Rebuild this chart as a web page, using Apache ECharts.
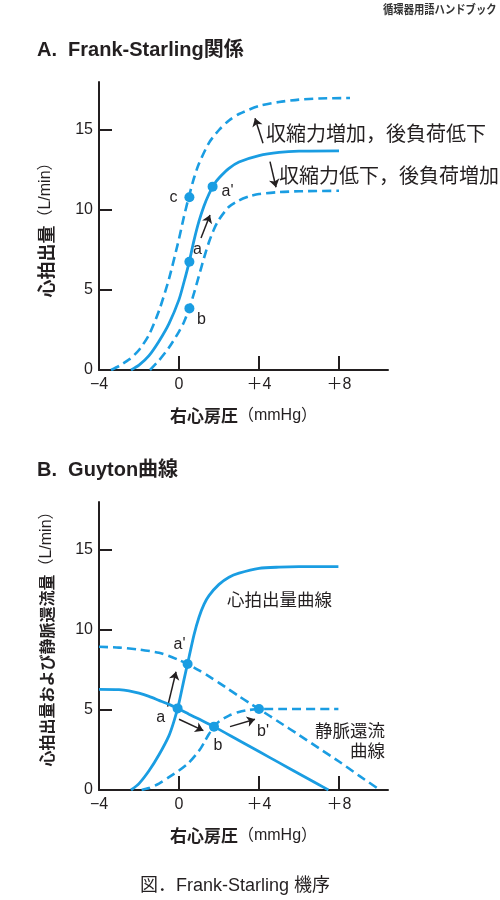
<!DOCTYPE html>
<html>
<head>
<meta charset="utf-8">
<script src="https://cdn.jsdelivr.net/npm/echarts@6/dist/echarts.min.js"></script>
<style>
  html, body { margin: 0; padding: 0; background: #fff; }
  #chart { width: 500px; height: 900px; }
</style>
</head>
<body>
<div id="chart"></div>
<script>
// ---- data ----
const xTicks = [-4, 0, 4, 8];
const xTickLabels = ['−4', '0', '＋4', '＋8'];
const yTicks = [0, 5, 10, 15];
const yTickLabels = ['0', '5', '10', '15'];

// A. Frank-Starling
const aUpper = [[-3.4, 0], [-3.0, 0.25], [-2.5, 0.65], [-2.0, 1.25], [-1.5, 2.2], [-1.0, 3.7], [-0.5, 5.7], [0, 8.2], [0.25, 9.6], [0.5, 10.85], [0.75, 12.0], [1.0, 12.9], [1.5, 14.2], [2.0, 15.0], [2.5, 15.6], [3.0, 16.0], [4.0, 16.5], [5.0, 16.75], [6.0, 16.9], [7.0, 16.97], [8.55, 17.0]];
const aNormal = [[-2.4, 0], [-2.0, 0.3], [-1.5, 0.9], [-1.0, 1.8], [-0.5, 2.9], [0, 4.4], [0.25, 5.5], [0.5, 6.7], [0.75, 8.1], [1.0, 9.3], [1.25, 10.25], [1.5, 11.0], [1.75, 11.6], [2.0, 12.0], [2.5, 12.6], [3.0, 13.0], [4.0, 13.4], [5.0, 13.6], [6.0, 13.68], [8.0, 13.7]];
const aLower = [[-1.45, 0], [-1.0, 0.6], [-0.5, 1.4], [0, 2.4], [0.25, 3.0], [0.5, 3.8], [0.75, 4.8], [1.0, 5.9], [1.25, 7.0], [1.5, 8.0], [1.75, 8.8], [2.0, 9.4], [2.5, 10.2], [3.0, 10.6], [3.5, 10.85], [4.0, 11.0], [5.0, 11.12], [6.0, 11.17], [8.0, 11.2]];
const aPoints = [['c', 0.52, 10.8], ["a'", 1.68, 11.46], ['a', 0.52, 6.77], ['b', 0.52, 3.85]];
const aArrows = [[[1.1, 8.25], [1.55, 9.69]], [[4.2, 14.17], [3.8, 15.73]], [[4.55, 13.02], [4.85, 11.42]]];

// B. Guyton
const bCO = [[-2.4, 0], [-2.0, 0.4], [-1.5, 1.2], [-1.0, 2.2], [-0.5, 3.4], [-0.25, 4.3], [0, 5.45], [0.25, 6.9], [0.5, 8.3], [0.75, 9.7], [1.0, 10.8], [1.25, 11.6], [1.5, 12.15], [2.0, 12.85], [2.5, 13.3], [3.0, 13.55], [4.0, 13.85], [5.0, 13.93], [6.0, 13.96], [7.97, 13.96]];
const bCODown = [[-1.87, 0], [-1.5, 0.12], [-1.0, 0.4], [-0.5, 0.8], [0, 1.22], [0.5, 1.72], [1.0, 2.45], [1.25, 2.95], [1.5, 3.5], [1.75, 3.96], [2.0, 4.28], [2.5, 4.65], [3.0, 4.88], [3.5, 5.0], [4.0, 5.06], [5.0, 5.06], [7.97, 5.06]];
const bVR = [[-4, 6.29], [-3, 6.27], [-2.5, 6.2], [-2.0, 6.05], [-1.5, 5.85], [-1.0, 5.6], [-0.5, 5.35], [-0.07, 5.1], [0.5, 4.74], [1.0, 4.43], [1.75, 3.96], [3, 3.09], [4, 2.4], [5, 1.71], [6, 1.02], [7, 0.33], [7.47, 0]];
const bVRUp = [[-4, 8.95], [-3, 8.9], [-2, 8.78], [-1, 8.58], [-0.5, 8.38], [0, 8.12], [0.43, 7.87], [1.0, 7.48], [1.5, 7.1], [2.0, 6.7], [2.5, 6.28], [3.0, 5.86], [3.5, 5.45], [4.0, 5.06], [5.0, 4.25], [6.0, 3.44], [7.0, 2.61], [8.0, 1.78], [9.0, 0.9], [10.05, 0]];
const bPoints = [['a', -0.07, 5.1], ["a'", 0.43, 7.87], ['b', 1.75, 3.96], ["b'", 4.0, 5.06]];
const bArrows = [[[-0.57, 5.21], [-0.15, 7.39]], [[0, 4.42], [1.22, 3.71]], [[2.55, 3.96], [3.8, 4.42]]];

// ---- styles ----
const BLUE = '#1a9de2';
const INK = '#231f20';
const FONT = "'Liberation Sans', 'Noto Sans CJK JP', sans-serif";
const CJK = "'Noto Sans CJK JP', sans-serif";

const aLabelOffset = { 'c': [-16, 0], "a'": [15, 5], 'a': [8, -12], 'b': [12, 11] };
const bLabelOffset = { 'a': [-17, 9], "a'": [-8, -19], 'b': [4, 19], "b'": [4, 23] };

let chart = echarts.init(document.getElementById('chart'));

function xAxisOf(i) {
  return {
    type: 'value', gridIndex: i, min: -4, max: 10.45,
    name: '{a|右心房圧}{b|（mmHg）}',
    nameLocation: 'middle', nameGap: 37,
    nameTextStyle: {
      rich: {
        a: { fontFamily: CJK, fontSize: 17, fontWeight: 'bold', color: INK },
        b: { fontFamily: FONT, fontSize: 16, color: INK }
      }
    },
    axisLine: { onZero: true, lineStyle: { color: INK, width: 2 } },
    axisTick: { show: true, inside: true, length: 14, lineStyle: { color: INK, width: 2 }, customValues: xTicks },
    axisLabel: {
      customValues: xTicks, margin: 7, color: INK, fontSize: 16, fontFamily: FONT,
      formatter: v => xTickLabels[xTicks.indexOf(v)]
    },
    splitLine: { show: false }
  };
}

function yAxisOf(i, title, cjkSize, pad) {
  return {
    type: 'value', gridIndex: i, min: 0, max: 18,
    name: title,
    nameLocation: 'middle', nameGap: 44, nameRotate: 90,
    nameTextStyle: {
      padding: [0, 0, 0, pad],
      rich: {
        a: { fontFamily: CJK, fontSize: cjkSize, fontWeight: 'bold', color: INK },
        b: { fontFamily: FONT, fontSize: 16, color: INK }
      }
    },
    axisLine: { show: true, onZero: false, lineStyle: { color: INK, width: 2 } },
    axisTick: { show: true, inside: true, length: 13, lineStyle: { color: INK, width: 2 }, customValues: yTicks },
    axisLabel: {
      customValues: yTicks, margin: 6, color: INK, fontSize: 16, fontFamily: FONT,
      formatter: v => yTickLabels[yTicks.indexOf(v)]
    },
    splitLine: { show: false }
  };
}

function curve(data, i, dashed) {
  return {
    type: 'line', xAxisIndex: i, yAxisIndex: i, data: data,
    showSymbol: false, smooth: 0.25, silent: true,
    lineStyle: { color: BLUE, width: dashed ? 2.6 : 2.8, type: dashed ? [9, 5] : 'solid', cap: 'butt' }
  };
}

function dots(points, i, offsets) {
  return {
    type: 'scatter', xAxisIndex: i, yAxisIndex: i, symbolSize: 10,
    itemStyle: { color: BLUE, opacity: 1 },
    data: points.map(p => ({
      name: p[0], value: [p[1], p[2]],
      label: {
        show: true, position: 'inside', offset: offsets[p[0]], formatter: '{b}',
        color: INK, fontSize: 16, fontFamily: FONT, align: 'center', verticalAlign: 'middle'
      }
    }))
  };
}

function arrows(list, i) {
  return {
    type: 'lines', coordinateSystem: 'cartesian2d', xAxisIndex: i, yAxisIndex: i,
    symbol: ['none', 'arrow'], symbolSize: 8, silent: true,
    lineStyle: { color: INK, width: 1.5, opacity: 1 },
    data: list.map(c => ({ coords: c }))
  };
}

function text(str, x, y, size, extra) {
  return {
    type: 'text', left: x, top: y,
    style: Object.assign({ text: str, fontSize: size, fontFamily: CJK, fill: INK }, extra || {})
  };
}

let option = {
  animation: false,
  backgroundColor: '#fff',
  grid: [
    { left: 99, top: 82, width: 289, height: 288 },
    { left: 99, top: 502, width: 289, height: 288 }
  ],
  xAxis: [xAxisOf(0), xAxisOf(1)],
  yAxis: [
    yAxisOf(0, '{a|心拍出量}{b|（L/min）}', 18, 0),
    yAxisOf(1, '{a|心拍出量および静脈還流量}{b|（L/min）}', 16, 22)
  ],
  series: [
    curve(aUpper, 0, true),
    curve(aNormal, 0, false),
    curve(aLower, 0, true),
    dots(aPoints, 0, aLabelOffset),
    arrows(aArrows, 0),
    curve(bCO, 1, false),
    curve(bCODown, 1, true),
    curve(bVR, 1, false),
    curve(bVRUp, 1, true),
    dots(bPoints, 1, bLabelOffset),
    arrows(bArrows, 1)
  ],
  graphic: [
    { type: 'text', x: 383, y: 3, scaleX: 0.86, style: { text: '循環器用語ハンドブック', fontSize: 12, fontWeight: 'bold', fontFamily: CJK, fill: '#333' } },
    text('A.  Frank-Starling関係', 37, 40, 20, { fontWeight: 'bold', fontFamily: FONT }),
    text('B.  Guyton曲線', 37, 460, 20, { fontWeight: 'bold', fontFamily: FONT }),
    text('収縮力増加，後負荷低下', 266, 123, 20),
    text('収縮力低下，後負荷増加', 279, 165, 20),
    text('心拍出量曲線', 227, 591, 17.5),
    { type: 'text', right: 115, top: 722, style: { text: '静脈還流', fontSize: 17.5, fontFamily: CJK, fill: INK } },
    { type: 'text', right: 115, top: 742, style: { text: '曲線', fontSize: 17.5, fontFamily: CJK, fill: INK } },
    text('図．Frank-Starling 機序', 140, 877, 18, { fontFamily: FONT })
  ]
};

chart.setOption(option);
</script>
</body>
</html>
